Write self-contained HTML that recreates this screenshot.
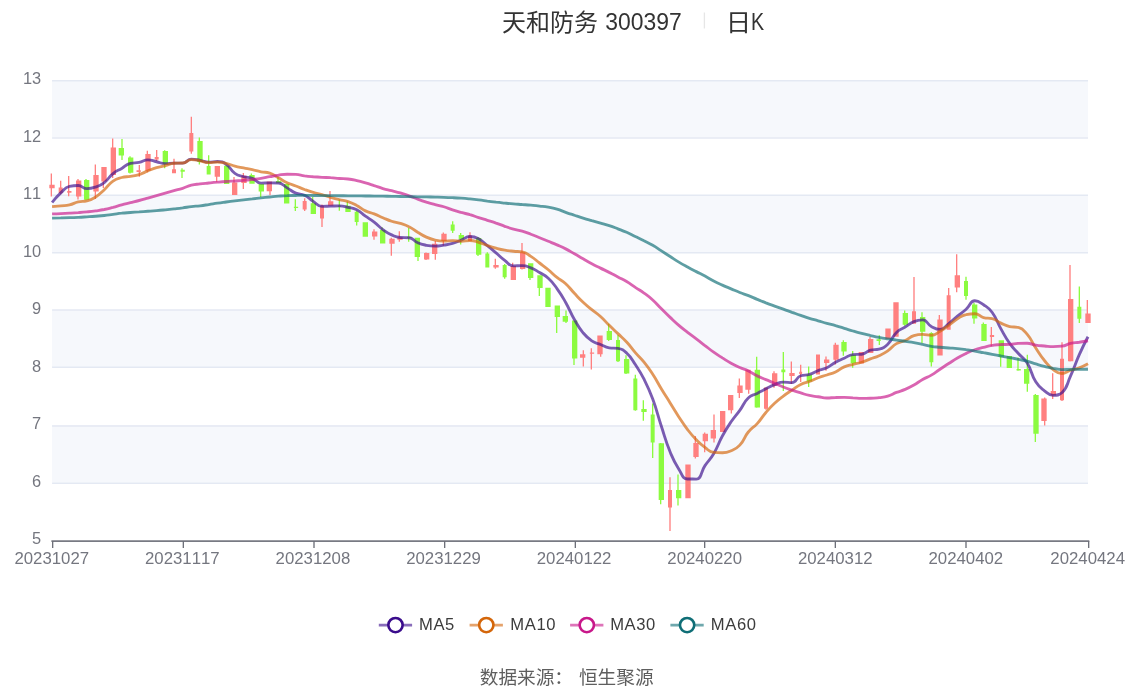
<!DOCTYPE html>
<html lang="zh"><head><meta charset="utf-8"><title>天和防务 300397 日K</title>
<style>html,body{margin:0;padding:0;background:#fff}body{width:1134px;height:689px;position:relative;overflow:hidden;font-family:"Liberation Sans",sans-serif}</style></head>
<body>
<svg width="1134" height="689" viewBox="0 0 1134 689" style="position:absolute;left:0;top:0;will-change:transform;font-kerning:none">
<rect x="52.08" y="80" width="1035.92" height="57.5" fill="#F6F8FC"/>
<rect x="52.08" y="195" width="1035.92" height="57.5" fill="#F6F8FC"/>
<rect x="52.08" y="310" width="1035.92" height="57.5" fill="#F6F8FC"/>
<rect x="52.08" y="425" width="1035.92" height="57.5" fill="#F6F8FC"/>
<line x1="52.08" x2="1088.0" y1="80.67" y2="80.67" stroke="#E4E9F3" stroke-width="1.5"/>
<line x1="52.08" x2="1088.0" y1="138" y2="138" stroke="#E4E9F3" stroke-width="1.5"/>
<line x1="52.08" x2="1088.0" y1="195.33" y2="195.33" stroke="#E4E9F3" stroke-width="1.5"/>
<line x1="52.08" x2="1088.0" y1="252.67" y2="252.67" stroke="#E4E9F3" stroke-width="1.5"/>
<line x1="52.08" x2="1088.0" y1="310" y2="310" stroke="#E4E9F3" stroke-width="1.5"/>
<line x1="52.08" x2="1088.0" y1="367.33" y2="367.33" stroke="#E4E9F3" stroke-width="1.5"/>
<line x1="52.08" x2="1088.0" y1="426" y2="426" stroke="#E4E9F3" stroke-width="1.5"/>
<line x1="52.08" x2="1088.0" y1="483.33" y2="483.33" stroke="#E4E9F3" stroke-width="1.5"/>
<path d="M49.33,184.7H54.67V188.2H49.33zM50.67,173.5H52V184.8H50.67zM50.67,188.1H52V196.4H50.67zM58.67,187.6H62.67V193H58.67zM60,180.7H61.33V187.7H60zM60,192.9H61.33V194.2H60zM67.2,191H71.47V192.8H67.2zM68,176.1H69.33V191.1H68zM68,192.7H69.33V196.2H68zM76,180.6H81.33V196.6H76zM77.33,178.9H78.67V180.7H77.33zM77.33,196.5H78.67V199.5H77.33zM93.33,175H98.67V191.5H93.33zM94.67,164.4H96V175.1H94.67zM94.67,191.4H96V198.9H94.67zM101.33,167.1H106.67V181.4H101.33zM102.67,181.3H104V188H102.67zM110.67,147.4H116V174.9H110.67zM112,138.4H113.33V147.5H112zM112,174.8H113.33V178H112zM136.53,170.2H140.8V171.9H136.53zM138.67,164.9H140V170.3H138.67zM138.67,171.8H140V176.8H138.67zM145.33,154H150.67V170.8H145.33zM146.67,150.7H148V154.1H146.67zM146.67,170.7H148V172.2H146.67zM154.67,157H158.67V159.6H154.67zM156,150.1H157.33V157.1H156zM156,159.5H157.33V160.9H156zM172,169.3H176V173.2H172zM173.33,158.7H174.67V169.4H173.33zM189.33,132.9H193.33V151.5H189.33zM190.67,116.8H192V133H190.67zM190.67,151.4H192V153.7H190.67zM214.67,166.1H220V176.8H214.67zM216,176.7H217.33V181.7H216zM232,182.4H237.33V195H232zM233.33,177.1H234.67V182.5H233.33zM241.33,175.8H246.67V183H241.33zM242.67,173.1H244V175.9H242.67zM242.67,182.9H244V189H242.67zM266.67,181.5H272V191.2H266.67zM269.33,191.1H270.67V195H269.33zM302.67,200.9H306.67V209.5H302.67zM304,198.3H305.33V201H304zM304,209.4H305.33V211.1H304zM320,205.7H324V218.6H320zM321.33,204.5H322.67V205.8H321.33zM321.33,218.5H322.67V227H321.33zM328,201.2H333.33V205.7H328zM329.33,191.1H330.67V201.3H329.33zM372,231.6H377.33V236.5H372zM373.33,229.2H374.67V231.7H373.33zM373.33,236.4H374.67V239.8H373.33zM389.33,238.8H394.67V243.8H389.33zM390.67,237.8H392V238.9H390.67zM390.67,243.7H392V255.7H390.67zM397.33,237.2H402.67V239.8H397.33zM398.67,231.2H400V237.3H398.67zM398.67,239.7H400V241.8H398.67zM424,253H429.33V259.4H424zM425.33,252.6H426.67V253.1H425.33zM425.33,259.3H426.67V259.9H425.33zM432,243.8H437.33V254.1H432zM434.67,241.1H436V243.9H434.67zM434.67,254H436V259.7H434.67zM441.33,233.8H446.67V240.9H441.33zM442.67,232.4H444V233.9H442.67zM442.67,240.8H444V245.7H442.67zM468,235.6H472V240.9H468zM469.33,232.3H470.67V235.7H469.33zM493.33,265H498.67V267.5H493.33zM494.67,258.7H496V265.1H494.67zM494.67,267.4H496V268.8H494.67zM510.67,266.1H516V280.1H510.67zM512,262.8H513.33V266.2H512zM520,252.2H525.33V269H520zM521.33,242.9H522.67V252.3H521.33zM521.33,268.9H522.67V269.4H521.33zM580,354.2H585.33V357.7H580zM582.67,350.2H584V354.3H582.67zM582.67,357.6H584V366.5H582.67zM589.87,352.4H594.13V353.8H589.87zM590.67,348.2H592V352.5H590.67zM590.67,353.7H592V369.4H590.67zM597.33,335.6H602.67V354.2H597.33zM600,354.1H601.33V356.8H600zM668,489.9H672V507.5H668zM669.33,477.2H670.67V490H669.33zM669.33,507.4H670.67V531H669.33zM685.33,464.5H690.67V498.2H685.33zM693.33,443H698.67V457.1H693.33zM694.67,435.9H696V443.1H694.67zM694.67,457H696V458.5H694.67zM702.67,433.7H708V441.2H702.67zM704,432.6H705.33V433.8H704zM704,441.1H705.33V452.2H704zM710.67,430H716V438.5H710.67zM713.33,414.5H714.67V430.1H713.33zM713.33,438.4H714.67V442.5H713.33zM720,411H725.33V432H720zM728,394.9H733.33V410.2H728zM730.67,410.1H732V413.5H730.67zM737.33,385.5H742.67V393H737.33zM738.67,378.5H740V385.6H738.67zM738.67,392.9H740V398H738.67zM745.33,369.7H750.67V389.7H745.33zM748,389.6H749.33V393.7H748zM764,387.6H768V408.7H764zM765.33,387.4H766.67V387.7H765.33zM765.33,408.6H766.67V409.8H765.33zM772,373.3H777.33V385.8H772zM773.33,371.3H774.67V373.4H773.33zM773.33,385.7H774.67V387.8H773.33zM789.33,372.9H794.67V376.1H789.33zM790.67,361.4H792V373H790.67zM790.67,376H792V383.9H790.67zM799.2,371.8H802.13V374H799.2zM800,364.7H801.33V371.9H800zM800,373.9H801.33V381.9H800zM816,354.4H820V374.4H816zM817.33,374.3H818.67V374.6H817.33zM824,359.6H829.33V362.9H824zM825.33,356.5H826.67V359.7H825.33zM825.33,362.8H826.67V370.8H825.33zM833.33,344.7H838.67V359.8H833.33zM834.67,342.8H836V344.8H834.67zM834.67,359.7H836V364.5H834.67zM858.67,352H864V363.4H858.67zM868,338.9H873.33V353H868zM869.33,337H870.67V339H869.33zM885.33,328.5H890.67V339H885.33zM893.33,302.2H898.67V336.8H893.33zM912,311.3H916V323.7H912zM913.33,277.1H914.67V311.4H913.33zM937.33,319.5H942.67V355.6H937.33zM938.67,315H940V319.6H938.67zM946.67,295.2H950.67V329.7H946.67zM948,287.9H949.33V295.3H948zM954.67,275.3H960V287.6H954.67zM956,254.2H957.33V275.4H956zM956,287.5H957.33V292.3H956zM989.87,335H994.13V337H989.87zM990.67,327H992V335.1H990.67zM990.67,336.9H992V346.2H990.67zM1041.33,398.6H1046.67V421.1H1041.33zM1044,397.5H1045.33V398.7H1044zM1044,421H1045.33V425.5H1044zM1050.67,391.1H1056V395.4H1050.67zM1052,373.2H1053.33V391.2H1052zM1052,395.3H1053.33V399H1052zM1060,358.8H1064V400.3H1060zM1061.33,342.2H1062.67V358.9H1061.33zM1061.33,400.2H1062.67V401H1061.33zM1068,298.9H1073.33V361.2H1068zM1069.33,265.1H1070.67V299H1069.33zM1069.33,361.1H1070.67V361.5H1069.33zM1085.33,313.4H1090.67V322.9H1085.33zM1086.67,299.9H1088V313.5H1086.67z" fill="#FF8080"/>
<path d="M84,180H89.33V199.7H84zM85.33,178.9H86.67V180.1H85.33zM85.33,199.6H86.67V200.2H85.33zM118.67,148.1H124V155.4H118.67zM121.33,139.1H122.67V148.2H121.33zM121.33,155.3H122.67V160H121.33zM128,157.6H133.33V172.8H128zM129.33,156.3H130.67V157.7H129.33zM129.33,172.7H130.67V173.5H129.33zM162.67,151H168V164.2H162.67zM164,150.3H165.33V151.1H164zM164,164.1H165.33V168.2H164zM180.53,169.8H184.8V171.8H180.53zM181.33,168.3H182.67V169.9H181.33zM181.33,171.7H182.67V178H181.33zM197.33,141H202.67V162.1H197.33zM198.67,137.4H200V141.1H198.67zM198.67,162H200V164.5H198.67zM206.67,166.1H210.67V174.4H206.67zM208,155.3H209.33V166.2H208zM224,165.7H229.33V184H224zM225.33,165.2H226.67V165.8H225.33zM249.33,175.1H254.67V183.7H249.33zM250.67,173.5H252V175.2H250.67zM258.67,184.1H264V191.6H258.67zM260,191.5H261.33V197H260zM276,180.9H281.33V183.3H276zM277.33,177.1H278.67V181H277.33zM284,183.9H289.33V203.6H284zM286.67,183.7H288V184H286.67zM293.87,206.65H298.13V207.95H293.87zM294.67,199.2H296V206.75H294.67zM294.67,207.85H296V211.1H294.67zM310.67,203.2H316V213.9H310.67zM312,196.9H313.33V203.3H312zM337.87,205.45H340.8V206.75H337.87zM338.67,199.5H340V205.55H338.67zM338.67,206.65H340V210.7H338.67zM345.33,205.7H350.67V212H345.33zM346.67,201.5H348V205.8H346.67zM354.67,211.8H358.67V222H354.67zM356,210.7H357.33V211.9H356zM356,221.9H357.33V225.5H356zM362.67,222.2H368V236.8H362.67zM380,229.9H385.33V243.5H380zM381.33,227.2H382.67V230H381.33zM407.2,236.75H411.47V238.05H407.2zM408,227.9H409.33V236.85H408zM408,237.95H409.33V241.8H408zM414.67,237.8H420V257H414.67zM417.33,256.9H418.67V261H417.33zM450.67,224.4H454.67V230.7H450.67zM452,221.2H453.33V224.5H452zM452,230.6H453.33V233H452zM458.67,235H464V239.6H458.67zM460,233H461.33V235.1H460zM460,239.5H461.33V244.5H460zM476,237.9H481.33V254.8H476zM477.33,237H478.67V238H477.33zM477.33,254.7H478.67V255.9H477.33zM485.33,253.5H489.33V267.5H485.33zM486.67,252.2H488V253.6H486.67zM502.67,265H506.67V277.2H502.67zM504,264.1H505.33V265.1H504zM504,277.1H505.33V278.7H504zM528,263.3H533.33V277.9H528zM529.33,277.8H530.67V279.9H529.33zM537.33,275.2H542.67V288.1H537.33zM538.67,288H540V296H538.67zM545.33,287.8H550.67V306.9H545.33zM554.67,305.5H560V317H554.67zM556,316.9H557.33V332.9H556zM562.67,316H568V321.7H562.67zM565.33,310.5H566.67V316.1H565.33zM565.33,321.6H566.67V323.1H565.33zM572,320.4H577.33V358.5H572zM573.33,358.4H574.67V365.1H573.33zM606.67,331H612V340H606.67zM608,323.7H609.33V331.1H608zM608,339.9H609.33V340.9H608zM616,340H620V361.3H616zM617.33,335H618.67V340.1H617.33zM617.33,361.2H618.67V362.1H617.33zM624,359H629.33V373.5H624zM625.33,355.2H626.67V359.1H625.33zM625.33,373.4H626.67V374H625.33zM633.33,378.4H637.33V410.2H633.33zM634.67,374.8H636V378.5H634.67zM634.67,410.1H636V410.8H634.67zM641.33,408.9H646.67V411.9H641.33zM642.67,400.3H644V409H642.67zM642.67,411.8H644V420.8H642.67zM650.67,414.6H654.67V442.6H650.67zM652,403.6H653.33V414.7H652zM652,442.5H653.33V457.9H652zM658.67,443.3H664V499.9H658.67zM660,443H661.33V443.4H660zM660,499.8H661.33V504.3H660zM676,489.9H681.33V498.2H676zM677.33,474.6H678.67V490H677.33zM677.33,498.1H678.67V505.4H677.33zM754.67,369.7H760V407.4H754.67zM756,356.7H757.33V369.8H756zM756,407.3H757.33V407.7H756zM781.33,369.6H785.33V372.3H781.33zM782.67,352.1H784V369.7H782.67zM782.67,372.2H784V390.9H782.67zM806.67,374.6H812V381.5H806.67zM808,366.6H809.33V374.7H808zM808,381.4H809.33V387H808zM841.33,342.1H846.67V351.5H841.33zM842.67,340.2H844V342.2H842.67zM842.67,351.4H844V355.7H842.67zM850.67,354.8H856V363.3H850.67zM852,351.1H853.33V354.9H852zM852,363.2H853.33V367.8H852zM876.53,339.2H880.8V340.9H876.53zM878.67,335.2H880V339.3H878.67zM878.67,340.8H880V344.9H878.67zM902.67,312.9H908V324.7H902.67zM904,310.4H905.33V313H904zM904,324.6H905.33V325.7H904zM920,317H925.33V331.7H920zM921.33,312.3H922.67V317.1H921.33zM921.33,331.6H922.67V343.1H921.33zM929.33,333H933.33V362.2H929.33zM930.67,332.3H932V333.1H930.67zM930.67,362.1H932V366.6H930.67zM964,281H968V295.9H964zM965.33,276.7H966.67V281.1H965.33zM965.33,295.8H966.67V299.8H965.33zM972,304.5H977.33V318.5H972zM973.33,302.8H974.67V304.6H973.33zM973.33,318.4H974.67V323.8H973.33zM981.33,324.1H986.67V340.9H981.33zM982.67,322.4H984V324.2H982.67zM998.67,340.3H1004V356.8H998.67zM1000,356.7H1001.33V366.7H1000zM1006.67,355.9H1012V368H1006.67zM1016.53,369.1H1020.8V370.4H1016.53zM1017.33,357.5H1018.67V369.2H1017.33zM1017.33,370.3H1018.67V370.7H1017.33zM1024,369H1029.33V383.8H1024zM1026.67,354.8H1028V369.1H1026.67zM1026.67,383.7H1028V391.7H1026.67zM1033.33,395.1H1038.67V433.8H1033.33zM1034.67,394H1036V395.2H1034.67zM1034.67,433.7H1036V442H1034.67zM1077.33,306.8H1081.33V318.7H1077.33zM1078.67,286.6H1080V306.9H1078.67zM1078.67,318.6H1080V322.9H1078.67z" fill="#8CFB40"/>
<path d="M52.08,202.5C52.08,202.5 56.06,197.3 60.79,192.9C64.77,189.2 64.65,187.3 69.49,186.3C73.36,185.5 73.97,185.5 78.2,185.5C82.67,185.5 82.45,188.66 86.9,188.66C91.16,188.66 91.47,188.49 95.61,187.04C100.18,185.43 100.49,185.5 104.31,182.54C109.2,178.75 108.2,177.44 113.02,173.53C116.9,170.38 117.36,170.96 121.72,168.41C126.07,165.88 125.77,164.5 130.43,163.37C134.48,162.39 134.86,163.26 139.13,162.39C143.56,161.49 143.45,159.83 147.84,159.83C152.15,159.83 152.19,160.79 156.54,161.74C160.89,162.69 160.85,163.62 165.25,163.62C169.56,163.62 169.6,163.07 173.95,163.07C178.3,163.07 178.51,163.08 182.66,163.08C187.21,163.08 186.83,159.17 191.36,159.17C195.54,159.17 195.74,159.6 200.07,160.33C204.45,161.07 204.38,162.1 208.77,162.1C213.09,162.1 213.22,161.53 217.48,161.53C221.92,161.53 222.55,161.71 226.18,164.2C231.25,167.67 229.86,169.85 234.89,173.45C238.56,176.08 239.14,175.4 243.59,176.67C247.85,177.88 248.19,176.87 252.3,178.4C256.89,180.11 256.37,183.15 261.01,183.15C265.08,183.15 265.36,182.9 269.71,182.9C274.06,182.9 274.36,182.9 278.42,182.99C283.06,183.09 282.8,185.37 287.12,187.87C291.51,190.42 291.2,191.14 295.83,193.09C299.91,194.81 300.55,193.33 304.53,195.22C309.26,197.47 308.75,198.49 313.24,201.36C317.46,204.06 317.28,206.35 321.94,206.35C325.99,206.35 326.29,206.23 330.65,206.11C335,205.99 335.03,205.88 339.35,205.88C343.73,205.88 343.76,206.33 348.06,207.29C352.47,208.27 352.8,207.72 356.76,209.75C361.51,212.18 361.06,213.06 365.47,216.21C369.76,219.28 369.98,218.99 374.17,222.2C378.69,225.66 378.29,226.2 382.88,229.54C386.99,232.53 386.98,232.77 391.58,234.87C395.68,236.74 395.84,237.18 400.29,237.49C404.55,237.79 404.95,237.49 408.99,237.79C413.65,238.14 413.12,240.81 417.7,242.78C421.83,244.56 421.97,244.45 426.4,245.28C430.68,246.08 430.76,246.08 435.11,246.08C439.47,246.08 439.49,245.79 443.81,245.14C448.19,244.49 448.28,244.71 452.52,243.48C456.99,242.18 456.89,241.83 461.22,240.09C465.59,238.34 465.48,236.5 469.93,236.5C474.19,236.5 474.73,236.75 478.64,238.8C483.43,241.31 483.04,242.15 487.34,245.62C491.74,249.17 491.73,249.19 496.05,252.85C500.44,256.58 500.15,256.96 504.75,260.41C508.86,263.49 508.74,265.91 513.46,265.91C517.45,265.91 517.87,265.65 522.16,265.65C526.58,265.65 526.73,266.2 530.87,267.84C535.43,269.65 535.34,270 539.57,272.55C544.04,275.24 544.47,274.82 548.28,278.32C553.18,282.82 553.06,283.12 556.98,288.56C561.77,295.19 561.67,295.32 565.69,302.46C570.38,310.8 569.64,311.22 574.39,319.52C578.34,326.41 578.1,326.72 583.1,332.83C586.81,337.37 586.96,337.59 591.8,340.83C595.67,343.42 596.13,342.73 600.51,344.49C604.83,346.23 604.72,347.15 609.21,347.82C613.42,348.45 613.82,347.82 617.92,348.45C622.53,349.16 623.11,349.73 626.62,352.98C631.81,357.78 631.33,358.54 635.33,364.56C640.03,371.64 640.21,371.6 644.03,379.19C648.92,388.87 648.99,388.92 652.74,399.1C657.7,412.58 656.95,412.85 661.44,426.51C665.66,439.33 665.06,439.59 670.15,452.05C673.77,460.91 673.69,461.15 678.86,469.15C682.4,474.63 682.32,478.95 687.56,479.01C691.03,479.05 693.2,479.05 696.27,479.05C701.9,479.05 700.45,472.22 704.97,465.63C709.15,459.54 709.94,460.04 713.68,453.69C718.65,445.23 717.67,444.65 722.38,436.02C726.37,428.71 726.42,428.7 731.09,421.81C735.13,415.85 735.56,416.15 739.79,410.31C744.26,404.15 743.19,402.96 748.5,397.81C751.9,394.51 752.87,395.64 757.2,393.4C761.57,391.14 761.51,391.01 765.91,388.81C770.21,386.66 770.14,386.43 774.61,384.7C778.84,383.07 778.87,382.08 783.32,382.08C787.58,382.08 788.19,382.6 792.02,382.6C796.89,382.6 795.87,377.33 800.73,375.74C804.58,374.48 805.26,375.72 809.43,374.48C813.96,373.14 813.69,372.29 818.14,370.59C822.4,368.96 822.75,369.76 826.84,367.82C831.45,365.64 831.06,364.83 835.55,362.35C839.76,360.03 839.86,360.19 844.25,358.22C848.56,356.29 848.43,354.92 852.96,354.55C857.14,354.21 857.53,354.55 861.66,354.21C866.23,353.83 865.82,351.27 870.37,350.14C874.52,349.11 875.01,350.14 879.07,349.11C883.72,347.93 884.24,347.55 887.78,344.16C892.95,339.2 891.36,337.44 896.49,332.4C900.07,328.87 900.84,329.72 905.19,327.02C909.55,324.32 909.23,323.51 913.9,321.61C917.93,319.97 918.69,319.94 922.6,319.94C927.39,319.94 926.6,323.84 931.31,326.41C935.31,328.59 935.95,329.44 940.01,329.44C944.65,329.44 944.54,326.73 948.72,323.54C953.25,320.08 953.01,319.76 957.42,316.14C961.71,312.62 961.98,312.93 966.13,309.26C970.68,305.23 969.96,300.74 974.83,300.74C978.66,300.74 979.61,302.09 983.54,304.73C988.31,307.95 988.89,307.81 992.24,312.46C997.6,319.9 996.38,320.81 1000.95,328.91C1005.09,336.26 1004.79,336.51 1009.65,343.37C1013.5,348.81 1013.89,348.54 1018.36,353.51C1022.6,358.23 1023.78,357.41 1027.06,362.75C1032.49,371.57 1030.32,373.04 1035.77,381.83C1039.02,387.07 1039.59,387.03 1044.47,390.81C1048.3,393.77 1048.65,395.32 1053.18,395.32C1057.36,395.32 1059.07,395.32 1061.88,392.81C1067.78,387.55 1066.65,384.56 1070.59,375.92C1075.35,365.48 1074.63,365.15 1079.29,354.66C1083.33,345.58 1088,336.79 1088,336.79" fill="none" stroke="#3A0C8C" stroke-opacity="0.67" stroke-width="2.85" stroke-linejoin="bevel"/>
<path d="M52.08,206.6C52.08,206.6 56.44,206.22 60.79,205.8C65.14,205.37 65.25,205.8 69.49,204.9C73.95,203.95 73.74,202.92 78.2,201.9C82.44,200.92 82.73,201.9 86.9,200.9C91.44,199.81 91.63,199.56 95.61,197C100.34,193.96 100.12,193.53 104.31,189.7C108.83,185.58 108.1,184.55 113.02,181.1C116.8,178.45 117.22,178.74 121.72,177.5C125.92,176.35 126.1,177.04 130.43,176.31C134.8,175.58 134.92,175.9 139.13,174.59C143.62,173.2 143.44,172.65 147.84,170.91C152.15,169.21 152.11,169.03 156.54,167.71C160.81,166.44 160.93,166.85 165.25,165.74C169.63,164.61 169.51,163.44 173.95,163.22C178.22,163.01 178.46,163.22 182.66,163.01C187.17,162.78 186.88,159.6 191.36,159.6C195.58,159.6 195.75,160.02 200.07,160.78C204.45,161.56 204.37,162.69 208.77,162.69C213.08,162.69 213.14,162.15 217.48,162.15C221.85,162.15 221.91,162.42 226.18,163.39C230.62,164.4 230.48,164.96 234.89,166.11C239.19,167.24 239.24,167.05 243.59,167.95C247.94,168.85 247.96,168.77 252.3,169.72C256.67,170.69 256.62,170.95 261.01,171.79C265.32,172.62 265.61,171.79 269.71,173.07C274.32,174.52 274.08,175.4 278.42,177.79C282.79,180.22 282.61,180.6 287.12,182.72C291.32,184.7 291.49,184.31 295.83,186C300.2,187.69 300.13,187.86 304.53,189.49C308.84,191.08 308.84,191.11 313.24,192.43C317.54,193.72 317.61,193.49 321.94,194.69C326.31,195.91 326.28,196.04 330.65,197.26C334.98,198.48 334.98,198.48 339.35,199.56C343.69,200.63 343.85,200.13 348.06,201.58C352.56,203.13 352.55,203.3 356.76,205.56C361.25,207.95 360.9,208.68 365.47,210.88C369.6,212.87 369.88,212.25 374.17,213.93C378.59,215.66 378.5,215.87 382.88,217.71C387.21,219.53 387.13,219.79 391.58,221.25C395.83,222.65 396.01,222.09 400.29,223.42C404.72,224.8 404.87,224.59 408.99,226.68C413.57,228.99 413.27,229.57 417.7,232.22C421.98,234.77 421.88,235.03 426.4,237.08C430.59,238.98 430.64,239.14 435.11,240.12C439.35,241.06 439.45,241.06 443.81,241.06C448.16,241.06 448.17,240.56 452.52,240.56C456.87,240.56 456.87,241.21 461.22,241.21C465.58,241.21 465.61,240.51 469.93,240.51C474.32,240.51 474.38,241.05 478.64,242.26C483.08,243.53 482.95,244 487.34,245.48C491.65,246.93 491.65,246.96 496.05,248.14C500.36,249.3 500.36,249.36 504.75,250.15C509.06,250.92 509.09,250.82 513.46,251.25C517.8,251.69 518.06,251.25 522.16,251.88C526.77,252.57 526.75,253.75 530.87,256.38C535.46,259.31 535.24,259.67 539.57,263C543.94,266.36 544.04,266.25 548.28,269.76C552.74,273.47 552.46,273.82 556.98,277.44C561.16,280.78 561.75,280.09 565.69,283.68C570.46,288.04 569.95,288.59 574.39,293.33C578.66,297.89 578.55,298.02 583.1,302.29C587.25,306.18 587.38,306.05 591.8,309.65C596.09,313.14 596.41,312.78 600.51,316.48C605.11,320.62 604.8,320.96 609.21,325.31C613.5,329.54 613.57,329.47 617.92,333.63C622.28,337.81 622.54,337.57 626.62,342C631.25,347.04 630.85,347.4 635.33,352.57C639.56,357.45 640,357.08 644.03,362.12C648.71,367.95 648.66,368.03 652.74,374.31C657.37,381.44 657.03,381.66 661.44,388.93C665.73,395.99 665.79,395.95 670.15,402.97C674.49,409.94 674.36,410.03 678.86,416.91C683.07,423.35 682.9,423.49 687.56,429.6C691.61,434.91 691.61,434.97 696.27,439.75C700.32,443.91 700.29,444.06 704.97,447.47C709,450.41 709.02,452.11 713.68,452.44C717.72,452.74 718.08,452.74 722.38,452.74C726.79,452.74 727.06,452.54 731.09,450.78C735.77,448.74 736.36,448.88 739.79,445.13C745.06,439.37 743.52,437.93 748.5,431.77C752.22,427.16 753.21,428.02 757.2,423.59C761.92,418.36 761.31,417.82 765.91,412.47C770.02,407.68 770.01,407.62 774.61,403.31C778.72,399.45 778.83,399.53 783.32,396.12C787.53,392.92 787.61,393.01 792.02,390.08C796.31,387.23 796.14,386.85 800.73,384.57C804.85,382.53 805.13,383.13 809.43,381.45C813.83,379.73 813.71,379.4 818.14,377.77C822.42,376.19 822.51,376.45 826.84,375.02C831.22,373.58 831.41,373.98 835.55,372.02C840.11,369.88 839.66,368.87 844.25,366.83C848.36,365.01 848.58,365.47 852.96,364.32C857.28,363.18 857.4,363.57 861.66,362.25C866.11,360.88 866.01,360.57 870.37,358.93C874.72,357.29 874.87,357.63 879.07,355.68C883.58,353.6 883.71,353.69 887.78,350.87C892.42,347.65 891.69,346.46 896.49,343.6C900.4,341.26 900.99,342.37 905.19,340.46C909.7,338.42 909.28,337.17 913.9,335.7C917.99,334.4 918.24,334.4 922.6,334.4C926.94,334.4 927.15,335.28 931.31,335.28C935.86,335.28 935.86,333.62 940.01,331.25C944.57,328.63 944.43,328.37 948.72,325.31C953.14,322.14 952.81,321.62 957.42,318.77C961.52,316.25 961.56,315.46 966.13,314.58C970.26,313.77 970.65,313.77 974.83,313.77C979.36,313.77 979.02,316.25 983.54,317.51C987.73,318.68 988.12,317.51 992.24,318.68C996.83,319.97 996.51,321.09 1000.95,323.1C1005.21,325.03 1005.15,325.59 1009.65,326.56C1013.86,327.48 1014.49,326.56 1018.36,327.48C1023.2,328.61 1023.57,330.02 1027.06,334.14C1032.28,340.29 1031.25,341.19 1035.77,348.02C1039.96,354.36 1039.71,354.59 1044.47,360.49C1048.41,365.35 1048.24,365.85 1053.18,369.54C1056.94,372.36 1057.48,373.51 1061.88,373.51C1066.19,373.51 1066.15,371.55 1070.59,370.11C1074.86,368.72 1075.08,369.37 1079.29,367.85C1083.79,366.22 1088,363.83 1088,363.83" fill="none" stroke="#D4660A" stroke-opacity="0.67" stroke-width="2.85" stroke-linejoin="bevel"/>
<path d="M52.08,213.9C52.08,213.9 56.43,213.79 60.79,213.61C65.14,213.44 65.14,213.44 69.49,213.2C73.84,212.96 73.85,212.97 78.2,212.65C82.55,212.32 82.55,212.34 86.9,211.9C91.26,211.46 91.27,211.48 95.61,210.88C99.97,210.28 99.99,210.37 104.31,209.5C108.7,208.61 108.68,208.51 113.02,207.37C117.39,206.21 117.35,206.07 121.72,204.9C126.06,203.74 126.08,203.82 130.43,202.72C134.78,201.62 134.79,201.66 139.13,200.5C143.5,199.34 143.49,199.31 147.84,198.08C152.19,196.86 152.19,196.84 156.54,195.6C160.89,194.37 160.89,194.37 165.25,193.14C169.6,191.92 169.6,191.91 173.95,190.7C178.3,189.49 178.36,189.66 182.66,188.3C187.06,186.91 186.91,186.33 191.36,185.2C195.61,184.13 195.7,184.45 200.07,183.89C204.41,183.35 204.42,183.43 208.77,183C213.12,182.57 213.12,182.56 217.48,182.19C221.83,181.81 221.83,181.8 226.18,181.5C230.53,181.2 230.54,181.24 234.89,180.97C239.24,180.69 239.25,180.76 243.59,180.4C247.95,180.04 247.95,180.03 252.3,179.53C256.66,179.03 256.67,179.1 261.01,178.4C265.38,177.69 265.35,177.55 269.71,176.72C274.06,175.9 274.04,175.73 278.42,175.1C282.74,174.47 282.76,174.2 287.12,174.2C291.46,174.2 291.5,174.2 295.83,174.4C300.21,174.6 300.16,175.21 304.53,175.81C308.87,176.4 308.88,176.36 313.24,176.77C317.58,177.17 317.58,177.17 321.94,177.41C326.29,177.64 326.3,177.43 330.65,177.7C335.01,177.97 334.99,178.16 339.35,178.49C343.7,178.82 343.74,178.49 348.06,179C352.44,179.52 352.45,179.61 356.76,180.57C361.15,181.54 361.15,181.6 365.47,182.85C369.85,184.12 369.83,184.21 374.17,185.62C378.53,187.03 378.48,187.22 382.88,188.51C387.18,189.77 387.23,189.6 391.58,190.71C395.94,191.82 395.98,191.69 400.29,192.95C404.68,194.24 404.68,194.27 408.99,195.8C413.38,197.36 413.32,197.54 417.7,199.12C422.02,200.67 422.02,200.68 426.4,202.06C430.73,203.42 430.73,203.41 435.11,204.59C439.44,205.76 439.53,205.45 443.81,206.74C448.23,208.08 448.13,208.41 452.52,209.85C456.84,211.27 456.84,211.26 461.22,212.48C465.55,213.68 465.63,213.41 469.93,214.68C474.33,215.97 474.27,216.18 478.64,217.6C482.97,219 482.99,218.96 487.34,220.32C491.69,221.68 491.74,221.55 496.05,223.03C500.44,224.53 500.36,224.77 504.75,226.29C509.06,227.78 509.06,227.82 513.46,229.05C517.77,230.25 517.88,229.87 522.16,231.14C526.58,232.46 526.55,232.6 530.87,234.23C535.25,235.9 535.22,235.98 539.57,237.74C543.93,239.51 543.93,239.5 548.28,241.28C552.64,243.07 552.66,243.01 556.98,244.89C561.37,246.8 561.43,246.7 565.69,248.87C570.13,251.14 570.06,251.29 574.39,253.76C578.76,256.25 578.74,256.3 583.1,258.81C587.44,261.31 587.38,261.42 591.8,263.77C596.09,266.06 596.15,265.95 600.51,268.1C604.86,270.25 604.89,270.19 609.21,272.39C613.59,274.61 613.57,274.67 617.92,276.95C622.27,279.24 622.41,279.01 626.62,281.53C631.11,284.22 630.96,284.47 635.33,287.37C639.67,290.24 639.82,290.02 644.03,293.07C648.53,296.32 648.63,296.24 652.74,299.96C657.34,304.12 657.05,304.43 661.44,308.83C665.76,313.15 665.73,313.18 670.15,317.39C674.44,321.48 674.37,321.56 678.86,325.42C683.08,329.06 683.15,328.98 687.56,332.38C691.86,335.7 691.93,335.6 696.27,338.87C700.64,342.17 700.62,342.2 704.97,345.53C709.32,348.85 709.22,348.99 713.68,352.16C717.92,355.18 717.98,355.11 722.38,357.91C726.68,360.64 726.63,360.76 731.09,363.22C735.33,365.56 735.36,365.55 739.79,367.52C744.06,369.43 744.29,368.95 748.5,370.97C752.99,373.13 752.73,373.66 757.2,375.89C761.44,377.99 761.54,377.79 765.91,379.63C770.25,381.46 770.28,381.36 774.61,383.21C778.99,385.07 778.9,385.29 783.32,387.05C787.61,388.77 787.64,388.69 792.02,390.17C796.35,391.63 796.36,391.61 800.73,392.94C805.06,394.26 805.01,394.51 809.43,395.47C813.72,396.4 813.78,396.1 818.14,396.72C822.49,397.35 822.47,397.95 826.84,397.95C831.18,397.95 831.19,397.62 835.55,397.53C839.9,397.43 839.9,397.43 844.25,397.43C848.61,397.43 848.61,397.6 852.96,397.83C857.31,398.05 857.31,398.32 861.66,398.32C866.01,398.32 866.02,398.32 870.37,398.29C874.73,398.26 874.75,398.16 879.07,397.61C883.45,397.06 883.57,397.35 887.78,396.09C892.28,394.75 892.07,394.1 896.49,392.41C900.78,390.77 900.96,391.2 905.19,389.42C909.66,387.54 909.68,387.5 913.9,385.08C918.39,382.51 918.11,382.03 922.6,379.46C926.82,377.04 927.13,377.58 931.31,375.11C935.83,372.44 935.63,372.1 940.01,369.19C944.33,366.32 944.36,366.37 948.72,363.55C953.07,360.74 952.95,360.55 957.42,357.94C961.66,355.47 961.69,355.48 966.13,353.39C970.39,351.37 970.38,351.26 974.83,349.73C979.08,348.27 979.16,348.48 983.54,347.4C987.87,346.34 987.85,346.17 992.24,345.45C996.55,344.73 996.58,344.63 1000.95,344.52C1005.29,344.41 1005.32,344.52 1009.65,344.41C1014.02,344.31 1013.99,343.41 1018.36,343.31C1022.69,343.21 1022.76,343.21 1027.06,343.21C1031.47,343.21 1031.38,344.39 1035.77,345.08C1040.08,345.76 1040.12,345.58 1044.47,345.96C1048.82,346.34 1048.82,346.61 1053.18,346.61C1057.53,346.61 1057.63,346.61 1061.88,346.18C1066.34,345.73 1066.16,344.46 1070.59,343.46C1074.86,342.49 1074.95,342.9 1079.29,342.23C1083.66,341.54 1088,340.73 1088,340.73" fill="none" stroke="#C8188A" stroke-opacity="0.67" stroke-width="2.85" stroke-linejoin="bevel"/>
<path d="M52.08,218.1C52.08,218.1 56.43,218.05 60.79,217.95C65.14,217.85 65.14,217.86 69.49,217.7C73.84,217.54 73.84,217.54 78.2,217.31C82.55,217.09 82.55,217.07 86.9,216.8C91.25,216.53 91.26,216.55 95.61,216.22C99.96,215.9 99.97,215.97 104.31,215.5C108.68,215.03 108.66,214.92 113.02,214.35C117.37,213.78 117.36,213.66 121.72,213.2C126.06,212.74 126.07,212.83 130.43,212.5C134.78,212.18 134.78,212.21 139.13,211.9C143.49,211.59 143.49,211.6 147.84,211.27C152.19,210.95 152.19,210.97 156.54,210.6C160.9,210.23 160.9,210.22 165.25,209.8C169.6,209.37 169.6,209.37 173.95,208.9C178.31,208.43 178.32,208.47 182.66,207.9C187.02,207.32 187,207.13 191.36,206.6C195.7,206.08 195.73,206.31 200.07,205.8C204.43,205.29 204.43,205.21 208.77,204.56C213.13,203.91 213.12,203.84 217.48,203.2C221.83,202.56 221.83,202.59 226.18,202.01C230.53,201.44 230.53,201.43 234.89,200.9C239.24,200.37 239.24,200.38 243.59,199.88C247.95,199.38 247.95,199.39 252.3,198.9C256.65,198.41 256.65,198.38 261.01,197.91C265.36,197.43 265.36,197.44 269.71,197C274.06,196.56 274.06,196.49 278.42,196.14C282.76,195.79 282.76,195.74 287.12,195.6C291.47,195.46 291.47,195.51 295.83,195.46C300.18,195.41 300.18,195.4 304.53,195.4C308.88,195.4 308.88,195.43 313.24,195.48C317.59,195.53 317.59,195.55 321.94,195.6C326.29,195.65 326.29,195.64 330.65,195.67C335,195.7 335,195.7 339.35,195.73C343.7,195.76 343.7,195.76 348.06,195.8C352.41,195.84 352.41,195.84 356.76,195.88C361.11,195.93 361.11,195.93 365.47,195.98C369.82,196.03 369.82,196.03 374.17,196.08C378.53,196.14 378.53,196.14 382.88,196.2C387.23,196.26 387.23,196.26 391.58,196.33C395.94,196.4 395.94,196.4 400.29,196.48C404.64,196.56 404.64,196.56 408.99,196.64C413.35,196.72 413.35,196.72 417.7,196.8C422.05,196.88 422.05,196.87 426.4,196.94C430.76,197.02 430.76,197.01 435.11,197.09C439.46,197.18 439.46,197.16 443.81,197.3C448.17,197.44 448.17,197.44 452.52,197.67C456.87,197.89 456.88,197.88 461.22,198.2C465.58,198.52 465.58,198.53 469.93,198.95C474.29,199.38 474.29,199.38 478.64,199.9C482.99,200.43 482.99,200.47 487.34,201.05C491.69,201.62 491.69,201.68 496.05,202.2C500.39,202.71 500.4,202.68 504.75,203.11C509.1,203.53 509.1,203.54 513.46,203.9C517.81,204.26 517.81,204.21 522.16,204.54C526.51,204.86 526.52,204.82 530.87,205.2C535.22,205.58 535.23,205.55 539.57,206.05C543.93,206.55 543.96,206.42 548.28,207.2C552.67,207.99 552.71,207.94 556.98,209.19C561.41,210.49 561.32,210.78 565.69,212.3C570.03,213.81 570.03,213.79 574.39,215.24C578.74,216.68 578.73,216.71 583.1,218.08C587.43,219.43 587.44,219.4 591.8,220.68C596.15,221.95 596.15,221.94 600.51,223.17C604.86,224.41 604.91,224.24 609.21,225.63C613.62,227.05 613.59,227.15 617.92,228.81C622.3,230.49 622.34,230.4 626.62,232.3C631.05,234.26 630.97,234.42 635.33,236.54C639.68,238.65 639.72,238.58 644.03,240.76C648.42,242.97 648.5,242.85 652.74,245.32C657.2,247.92 657.1,248.1 661.44,250.9C665.8,253.72 665.79,253.75 670.15,256.55C674.49,259.35 674.43,259.44 678.86,262.1C683.14,264.68 683.17,264.63 687.56,267.03C691.88,269.39 691.9,269.35 696.27,271.62C700.61,273.88 700.66,273.78 704.97,276.1C709.37,278.47 709.25,278.7 713.68,281.01C717.95,283.23 717.99,283.18 722.38,285.16C726.69,287.1 726.73,287.01 731.09,288.84C735.43,290.67 735.4,290.76 739.79,292.48C744.11,294.17 744.19,293.96 748.5,295.66C752.89,297.39 752.83,297.54 757.2,299.34C761.54,301.13 761.53,301.15 765.91,302.84C770.23,304.5 770.25,304.47 774.61,306.04C778.95,307.6 778.98,307.54 783.32,309.1C787.68,310.67 787.67,310.71 792.02,312.3C796.37,313.88 796.36,313.92 800.73,315.45C805.06,316.96 805.04,317.04 809.43,318.39C813.75,319.72 813.8,319.56 818.14,320.8C822.5,322.05 822.47,322.14 826.84,323.36C831.18,324.57 831.22,324.44 835.55,325.67C839.92,326.9 839.91,326.94 844.25,328.27C848.62,329.61 848.59,329.71 852.96,331C857.29,332.29 857.29,332.3 861.66,333.43C866,334.56 866.01,334.52 870.37,335.52C874.71,336.52 874.7,336.58 879.07,337.43C883.41,338.27 883.42,338.24 887.78,338.9C892.12,339.56 892.14,339.45 896.49,340.07C900.84,340.7 900.83,340.76 905.19,341.4C909.54,342.04 909.56,341.92 913.9,342.64C918.27,343.37 918.27,343.39 922.6,344.3C926.97,345.22 926.91,345.55 931.31,346.3C935.62,347.04 935.65,346.86 940.01,347.27C944.36,347.69 944.36,347.64 948.72,347.96C953.07,348.28 953.08,348.14 957.42,348.55C961.78,348.96 961.79,348.96 966.13,349.59C970.49,350.21 970.49,350.26 974.83,351.04C979.19,351.82 979.18,351.88 983.54,352.71C987.89,353.53 987.89,353.52 992.24,354.34C996.6,355.17 996.59,355.19 1000.95,356.01C1005.3,356.83 1005.3,356.8 1009.65,357.63C1014.01,358.46 1014.01,358.45 1018.36,359.34C1022.72,360.23 1022.76,360.06 1027.06,361.19C1031.47,362.35 1031.4,362.62 1035.77,363.91C1040.1,365.2 1040.09,365.25 1044.47,366.35C1048.8,367.44 1048.8,367.49 1053.18,368.3C1057.5,369.09 1057.51,369.56 1061.88,369.56C1066.21,369.56 1066.24,369.47 1070.59,369.45C1074.94,369.43 1074.94,369.45 1079.29,369.43C1083.65,369.42 1088,369.26 1088,369.26" fill="none" stroke="#0F6E76" stroke-opacity="0.67" stroke-width="2.85" stroke-linejoin="bevel"/>
<line x1="51.379999999999995" x2="1089.3" y1="541.1" y2="541.1" stroke="#787A83" stroke-width="1.7"/>
<path d="M52.67,541.1v6.8M183.33,541.1v6.8M314,541.1v6.8M444.67,541.1v6.8M575.33,541.1v6.8M704.67,541.1v6.8M835.33,541.1v6.8M966,541.1v6.8M1088.67,541.1v6.8" stroke="#6E7079" stroke-width="1.33" fill="none"/>
<g font-family="Liberation Sans, sans-serif" font-size="16.8" fill="#74767F">
<text x="51.78" y="563.7" text-anchor="middle">20231027</text>
<text x="182.36" y="563.7" text-anchor="middle">20231117</text>
<text x="312.94" y="563.7" text-anchor="middle">20231208</text>
<text x="443.51" y="563.7" text-anchor="middle">20231229</text>
<text x="574.09" y="563.7" text-anchor="middle">20240122</text>
<text x="704.67" y="563.7" text-anchor="middle">20240220</text>
<text x="835.25" y="563.7" text-anchor="middle">20240312</text>
<text x="965.83" y="563.7" text-anchor="middle">20240402</text>
<text x="1087.7" y="563.7" text-anchor="middle">20240424</text>
<text x="41.2" y="84.3" text-anchor="end" font-size="16.4">13</text>
<text x="41.2" y="141.8" text-anchor="end" font-size="16.4">12</text>
<text x="41.2" y="199.3" text-anchor="end" font-size="16.4">11</text>
<text x="41.2" y="256.8" text-anchor="end" font-size="16.4">10</text>
<text x="41.2" y="314.3" text-anchor="end" font-size="16.4">9</text>
<text x="41.2" y="371.8" text-anchor="end" font-size="16.4">8</text>
<text x="41.2" y="429.3" text-anchor="end" font-size="16.4">7</text>
<text x="41.2" y="486.8" text-anchor="end" font-size="16.4">6</text>
<text x="41.2" y="544.3" text-anchor="end" font-size="16.4">5</text>
</g>
<text x="501.9" y="30.6" font-family="'Liberation Sans','Noto Sans CJK SC',sans-serif" font-size="24" fill="#333333">天和防务</text>
<text transform="translate(605.3,30) scale(0.955,1)" font-family="Liberation Sans, sans-serif" font-size="24" fill="#333333">300397</text>
<line x1="704.4" x2="704.4" y1="12.5" y2="28.5" stroke="#E6E6E6" stroke-width="1.33"/>
<text transform="translate(725.66,30.8) scale(1.062,0.983)" font-family="'Liberation Sans','Noto Sans CJK SC',sans-serif" font-size="24" fill="#333333">日</text>
<text transform="translate(750.9,30.1) scale(0.82,1)" font-family="Liberation Sans, sans-serif" font-size="24" fill="#333333">K</text>
<line x1="378.8" x2="412.1" y1="625.1" y2="625.1" stroke="#3A0C8C" stroke-opacity="0.6" stroke-width="2.7"/>
<circle cx="395.5" cy="625.1" r="7.15" fill="#fff" stroke="#3A0C8C" stroke-width="2.6"/>
<text x="419.0" y="629.6" font-family="Liberation Sans, sans-serif" font-size="16.6" letter-spacing="0.6" fill="#3C3C3C">MA5</text>
<line x1="469.6" x2="502.90000000000003" y1="625.1" y2="625.1" stroke="#D4660A" stroke-opacity="0.6" stroke-width="2.7"/>
<circle cx="486.3" cy="625.1" r="7.15" fill="#fff" stroke="#D4660A" stroke-width="2.6"/>
<text x="510.3" y="629.6" font-family="Liberation Sans, sans-serif" font-size="16.6" letter-spacing="0.6" fill="#3C3C3C">MA10</text>
<line x1="570.1" x2="603.4" y1="625.1" y2="625.1" stroke="#C8188A" stroke-opacity="0.6" stroke-width="2.7"/>
<circle cx="586.8000000000001" cy="625.1" r="7.15" fill="#fff" stroke="#C8188A" stroke-width="2.6"/>
<text x="610.2" y="629.6" font-family="Liberation Sans, sans-serif" font-size="16.6" letter-spacing="0.6" fill="#3C3C3C">MA30</text>
<line x1="670.4" x2="703.6999999999999" y1="625.1" y2="625.1" stroke="#0F6E76" stroke-opacity="0.6" stroke-width="2.7"/>
<circle cx="687.1" cy="625.1" r="7.15" fill="#fff" stroke="#0F6E76" stroke-width="2.6"/>
<text x="710.8" y="629.6" font-family="Liberation Sans, sans-serif" font-size="16.6" letter-spacing="0.6" fill="#3C3C3C">MA60</text>
<text x="479.74" y="683.8" font-family="'Liberation Sans','Noto Sans CJK SC',sans-serif" font-size="18.67" fill="#5E5E5E">数据来源：</text>
<text x="578.94" y="683.8" font-family="'Liberation Sans','Noto Sans CJK SC',sans-serif" font-size="18.67" fill="#5E5E5E">恒生聚源</text>
</svg>
</body></html>
